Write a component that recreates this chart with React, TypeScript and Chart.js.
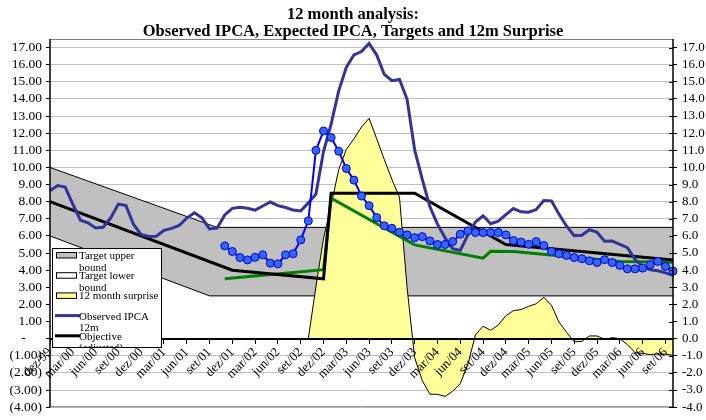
import { useEffect, useRef } from 'react';
import { Chart, registerables } from 'chart.js';

Chart.register(...registerables);

const categories: string[] = [
  'dez/99',
  'jan/00', 'fev/00', 'mar/00', 'abr/00', 'mai/00', 'jun/00', 'jul/00', 'ago/00', 'set/00', 'out/00', 'nov/00', 'dez/00',
  'jan/01', 'fev/01', 'mar/01', 'abr/01', 'mai/01', 'jun/01', 'jul/01', 'ago/01', 'set/01', 'out/01', 'nov/01', 'dez/01',
  'jan/02', 'fev/02', 'mar/02', 'abr/02', 'mai/02', 'jun/02', 'jul/02', 'ago/02', 'set/02', 'out/02', 'nov/02', 'dez/02',
  'jan/03', 'fev/03', 'mar/03', 'abr/03', 'mai/03', 'jun/03', 'jul/03', 'ago/03', 'set/03', 'out/03', 'nov/03', 'dez/03',
  'jan/04', 'fev/04', 'mar/04', 'abr/04', 'mai/04', 'jun/04', 'jul/04', 'ago/04', 'set/04', 'out/04', 'nov/04', 'dez/04',
  'jan/05', 'fev/05', 'mar/05', 'abr/05', 'mai/05', 'jun/05', 'jul/05', 'ago/05', 'set/05', 'out/05', 'nov/05', 'dez/05',
  'jan/06', 'fev/06', 'mar/06', 'abr/06', 'mai/06', 'jun/06', 'jul/06', 'ago/06', 'set/06', 'out/06',
];

// Observed IPCA 12m (one value per category)
const observedIPCA: number[] = [
  8.64, 8.94, 8.85, 7.86, 6.92, 6.77, 6.47, 6.51, 7.06, 7.86, 7.77, 6.67, 6.08,
  5.97, 5.98, 6.33, 6.44, 6.61, 7.04, 7.35, 7.06, 6.41, 6.46, 7.23, 7.61,
  7.67, 7.62, 7.51, 7.75, 7.98, 7.77, 7.66, 7.51, 7.46, 7.93, 8.45, 10.93,
  12.53, 14.47, 15.85, 16.57, 16.77, 17.24, 16.57, 15.43, 15.07, 15.14, 13.98, 11.02,
  9.3, 7.71, 6.69, 5.89, 5.26, 5.15, 6.06, 6.81, 7.18, 6.71, 6.86, 7.24,
  7.6, 7.41, 7.39, 7.54, 8.07, 8.05, 7.27, 6.57, 6.02, 6.04, 6.36, 6.22,
  5.69, 5.7, 5.51, 5.32, 4.63, 4.23, 4.03, 3.97, 3.84, 3.7,
];

// Expected IPCA 12m, starting at nov/01
const expectedStart = 'nov/01';
const expectedIPCA: number[] = [
  5.42, 5.09, 4.74, 4.6, 4.75, 4.9, 4.41, 4.37, 4.9, 4.96,
  5.77, 6.88, 11.0, 12.13, 11.75, 10.95, 9.94, 9.26, 8.33, 7.77,
  7.07, 6.59, 6.45, 6.22, 6.06, 5.9, 5.96, 5.71, 5.5, 5.5,
  5.67, 6.1, 6.3, 6.2, 6.2, 6.2, 6.2, 6.06, 5.73, 5.64,
  5.51, 5.67, 5.44, 5.09, 4.96, 4.86, 4.74, 4.67, 4.55, 4.45,
  4.61, 4.45, 4.28, 4.08, 4.08, 4.12, 4.32, 4.51, 4.22, 3.95,
];

// 12 month surprise, starting at out/02
const surpriseStart = 'out/02';
const surprise12m: number[] = [
  0, 3.03, 5.84, 7.79, 9.87, 11.05, 11.67, 12.36, 12.87, 11.67,
  10.47, 9.3, 8.26, 2.98, -1.11, -2.45, -3.24, -3.25, -3.37, -3.07,
  -2.62, -1.5, 0.22, 0.73, 0.49, 0.8, 1.34, 1.64, 1.7, 1.89,
  2.04, 2.42, 1.95, 0.97, 0.37, -0.18, -0.16, 0.16, 0.16, -0.04,
  0.06, 0.0, -0.35, -0.81, -0.86, -0.93, -0.89, -0.9, -0.97,
];

// Piecewise series (corner points)
const upperDates = ['dez/99', 'out/01', 'out/06'];
const upperValues = [10.0, 6.5, 6.5];
const lowerDates = ['dez/99', 'set/01', 'out/06'];
const lowerValues = [6.0, 2.5, 2.5];
const objectiveDates = ['dez/99', 'dez/01', 'dez/02', 'jan/03', 'dez/03', 'dez/04', 'out/06'];
const objectiveValues = [8.0, 4.0, 3.5, 8.5, 8.5, 5.5, 4.6];
const greenDates = ['nov/01', 'dez/02', 'jan/03', 'dez/03', 'set/04', 'out/04', 'jan/05', 'mar/06', 'out/06'];
const greenValues = [3.5, 4.03, 8.2, 5.48, 4.7, 5.1, 5.09, 4.51, 4.46];

const yTickValues = [-4, -3, -2, -1, 0, 1, 2, 3, 4, 5, 6, 7, 8, 9, 10, 11, 12, 13, 14, 15, 16, 17];
const leftTickLabels = ['(4.00)', '(3.00)', '(2.00)', '(1.00)', '-', '1.00', '2.00', '3.00', '4.00', '5.00', '6.00', '7.00', '8.00', '9.00', '10.00', '11.00', '12.00', '13.00', '14.00', '15.00', '16.00', '17.00'];
const rightTickLabels = ['-4.0', '-3.0', '-2.0', '-1.0', '0.0', '1.0', '2.0', '3.0', '4.0', '5.0', '6.0', '7.0', '8.0', '9.0', '10.0', '11.0', '12.0', '13.0', '14.0', '15.0', '16.0', '17.0'];

const titleLines = ['12 month analysis:', 'Observed IPCA, Expected IPCA, Targets and 12m Surprise'];

const legendEntries = [
  { lines: ['Target upper', 'bound'], kind: 'box', color: '#C0C0C0' },
  { lines: ['Target lower', 'bound'], kind: 'box', color: '#FFFFFF' },
  { lines: ['12 month surprise'], kind: 'box', color: '#FFFF99' },
  { lines: ['Observed IPCA', '12m'], kind: 'line', color: '#333399' },
  { lines: ['Objective', '(adjusted)'], kind: 'line', color: '#000000' },
];

const SERIF = '"Liberation Serif", "Times New Roman", serif';

const toPoints = (dates: string[], values: number[]) => dates.map((d, k) => ({ x: d, y: values[k] }));
const fromStart = (start: string, values: number[]) => {
  const s = categories.indexOf(start);
  return values.map((v, k) => ({ x: categories[s + k], y: v }));
};

const decorPlugin = {
  id: 'decor',
  afterDraw(chart: any) {
    const ctx = chart.ctx as CanvasRenderingContext2D;
    const a = chart.chartArea;
    const yS = chart.scales.y;
    ctx.save();
    // frame top/bottom
    ctx.strokeStyle = '#808080';
    ctx.lineWidth = 1;
    ctx.beginPath();
    ctx.moveTo(a.left, a.top + 0.5);
    ctx.lineTo(a.right, a.top + 0.5);
    ctx.moveTo(a.left, a.bottom - 0.5);
    ctx.lineTo(a.right, a.bottom - 0.5);
    ctx.stroke();
    // axis lines
    ctx.strokeStyle = '#000';
    ctx.lineWidth = 1.5;
    ctx.beginPath();
    ctx.moveTo(a.left, a.top);
    ctx.lineTo(a.left, a.bottom);
    ctx.moveTo(a.right, a.top);
    ctx.lineTo(a.right, a.bottom);
    ctx.stroke();
    // inner ticks on right axis
    ctx.lineWidth = 1;
    ctx.beginPath();
    for (const v of yTickValues) {
      const py = Math.round(yS.getPixelForValue(v)) + 0.5;
      ctx.moveTo(a.right - 4, py);
      ctx.lineTo(a.right, py);
    }
    ctx.stroke();

    // legend
    const lx = 52, ly = 248, lw = 109, lh = 99;
    ctx.fillStyle = '#fff';
    ctx.fillRect(lx, ly, lw, lh);
    ctx.save();
    ctx.beginPath();
    ctx.rect(lx, ly, lw, lh);
    ctx.clip();
    ctx.font = '11px ' + SERIF;
    ctx.textAlign = 'left';
    ctx.textBaseline = 'alphabetic';
    legendEntries.forEach((e, i) => {
      const cy = 255 + i * 20.2;
      if (e.kind === 'box') {
        ctx.fillStyle = e.color;
        ctx.fillRect(56.5, cy - 2.5, 20, 5.5);
        ctx.strokeStyle = '#000';
        ctx.lineWidth = 1;
        ctx.strokeRect(56.5, cy - 2.5, 20, 5.5);
      } else {
        ctx.strokeStyle = e.color;
        ctx.lineWidth = 3;
        ctx.beginPath();
        ctx.moveTo(55, cy);
        ctx.lineTo(80, cy);
        ctx.stroke();
      }
      ctx.fillStyle = '#000';
      e.lines.forEach((t, j) => {
        ctx.fillText(t, 79, cy + 4 + j * 11.5);
      });
    });
    ctx.restore();
    ctx.strokeStyle = '#000';
    ctx.lineWidth = 1;
    ctx.strokeRect(lx + 0.5, ly + 0.5, lw, lh);

    // title
    ctx.fillStyle = '#000';
    ctx.font = 'bold 16.5px ' + SERIF;
    ctx.textAlign = 'center';
    ctx.fillText(titleLines[0], 353, 19);
    ctx.fillText(titleLines[1], 353, 36);
    ctx.restore();
  },
};

export default function App() {
  const ref = useRef<HTMLCanvasElement | null>(null);
  useEffect(() => {
    document.body.style.margin = '0';
    const canvas = ref.current;
    if (!canvas) return;
    const chart = new Chart(canvas, {
      type: 'line',
      data: {
        labels: categories,
        datasets: [
          {
            label: 'Target upper bound',
            data: toPoints(upperDates, upperValues) as any,
            fill: 'origin',
            backgroundColor: '#C0C0C0',
            borderColor: '#000',
            borderWidth: 1,
            pointRadius: 0,
            order: 10,
          },
          {
            label: 'Target lower bound',
            data: toPoints(lowerDates, lowerValues) as any,
            fill: 'origin',
            backgroundColor: '#FFFFFF',
            borderColor: '#000',
            borderWidth: 1,
            pointRadius: 0,
            order: 9,
          },
          {
            label: '12 month surprise',
            data: fromStart(surpriseStart, surprise12m) as any,
            fill: 'origin',
            backgroundColor: '#FFFF99',
            borderColor: '#000',
            borderWidth: 1,
            pointRadius: 0,
            order: 8,
          },
          {
            label: 'Path',
            data: toPoints(greenDates, greenValues) as any,
            fill: false,
            borderColor: '#008000',
            borderWidth: 3,
            pointRadius: 0,
            order: 6,
          },
          {
            label: 'Objective (adjusted)',
            data: toPoints(objectiveDates, objectiveValues) as any,
            fill: false,
            borderColor: '#000000',
            borderWidth: 3,
            pointRadius: 0,
            order: 5,
          },
          {
            label: 'Observed IPCA 12m',
            data: observedIPCA,
            fill: false,
            borderColor: '#333399',
            borderWidth: 3,
            pointRadius: 0,
            order: 4,
          },
          {
            label: 'Expected IPCA 12m',
            data: fromStart(expectedStart, expectedIPCA) as any,
            fill: false,
            borderColor: '#0000FF',
            borderWidth: 2,
            pointRadius: 4,
            pointBackgroundColor: '#3366FF',
            pointBorderColor: '#0000CC',
            pointBorderWidth: 1,
            order: 3,
          },
        ],
      },
      options: {
        animation: false,
        responsive: false,
        devicePixelRatio: 1,
        events: [],
        layout: { padding: { top: 39, bottom: 12, left: 0, right: 0 } },
        plugins: {
          legend: { display: false },
          title: { display: false },
          tooltip: { enabled: false },
        },
        scales: {
          x: {
            type: 'category',
            position: { y: 0 } as any,
            offset: false,
            grid: {
              drawOnChartArea: false,
              drawTicks: true,
              tickLength: 4,
              z: 1,
              tickColor: (c: any) => (c.index % 3 === 0 ? '#000' : 'rgba(0,0,0,0)'),
            },
            border: { display: true, color: '#000', width: 2, z: 1 },
            ticks: {
              z: 1,
              autoSkip: false,
              maxRotation: 45,
              minRotation: 45,
              padding: 2,
              labelOffset: 0,
              color: '#000',
              font: { family: SERIF, size: 13 },
              callback: (_v: any, i: number) => (i % 3 === 0 ? categories[i] : ''),
            },
          },
          y: {
            type: 'linear',
            position: 'left',
            min: -4,
            max: 17.5,
            afterBuildTicks: (s: any) => {
              s.ticks = yTickValues.map((v) => ({ value: v }));
            },
            afterFit: (s: any) => {
              s.width = 50;
            },
            grid: {
              color: '#C0C0C0',
              lineWidth: 1,
              drawTicks: true,
              tickLength: 4,
              tickColor: '#000',
            },
            border: { display: false },
            ticks: {
              autoSkip: false,
              padding: 4,
              color: '#000',
              font: { family: SERIF, size: 13.5 },
              callback: (v: any) => {
                const k = yTickValues.indexOf(Number(v));
                const t = k >= 0 ? leftTickLabels[k] : '';
                return t === '-' ? '-\u2002\u2002\u2009' : t;
              },
            },
          },
          y2: {
            type: 'linear',
            position: 'right',
            min: -4,
            max: 17.5,
            afterBuildTicks: (s: any) => {
              s.ticks = yTickValues.map((v) => ({ value: v }));
            },
            afterFit: (s: any) => {
              s.width = 33;
            },
            grid: {
              drawOnChartArea: false,
              drawTicks: true,
              tickLength: 4,
              tickColor: '#000',
            },
            border: { display: false },
            ticks: {
              autoSkip: false,
              padding: 5,
              color: '#000',
              font: { family: SERIF, size: 13 },
              callback: (v: any) => {
                const k = yTickValues.indexOf(Number(v));
                return k >= 0 ? rightTickLabels[k] : '';
              },
            },
          },
        },
      },
      plugins: [decorPlugin],
    });
    return () => chart.destroy();
  }, []);
  return (
    <div style={{ width: 706, height: 420 }}>
      <canvas ref={ref} width={706} height={420} style={{ display: 'block' }} />
    </div>
  );
}
